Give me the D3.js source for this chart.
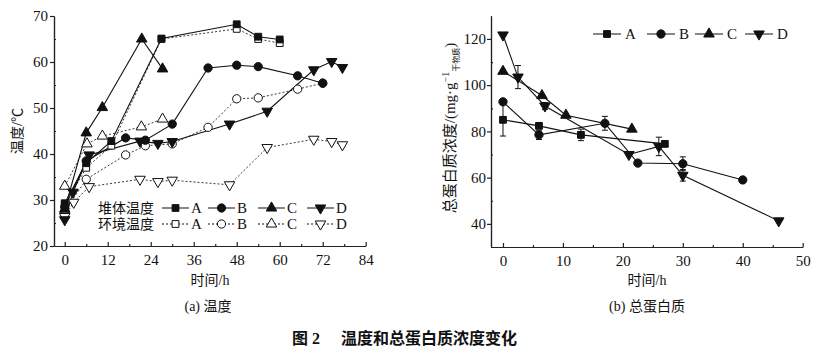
<!DOCTYPE html>
<html>
<head>
<meta charset="utf-8">
<script src="https://cdn.jsdelivr.net/npm/d3@7"></script>
<style>
body { margin: 0; background: #fff; }
text { font-family: "Liberation Serif", "Noto Sans CJK SC", serif; fill: #111; }
</style>
</head>
<body>
<div id="chart"></div>
<script>
'use strict';

// (a) temperature, [time h, temperature C]
var heapA = [[0,29.3],[6,38],[13,42.8],[27,65.1],[48,68.2],[54,65.5],[60,64.9]];
var envA  = [[0,29],[6,37],[13,41.8],[27,65],[48,67.2],[54,65],[60,64.1]];
var heapB = [[0,28.5],[6,38.5],[17,43.5],[22.5,43],[30,46.5],[40,58.7],[48,59.3],[54,59],[65,57],[72,55.4]];
var envB  = [[0,27.5],[6,34.5],[17,39.8],[22.5,41.8],[30,42.2],[40,45.8],[48,52],[54,52.2],[65,54.1],[72,55.4]];
var heapC = [[0,28],[6,44.6],[10.5,50.1],[21.5,65],[27.3,58.5]];
var envC  = [[0,33],[6.2,42.2],[10.5,43.9],[21.4,45.9],[27.3,47.6]];
var heapD = [[0,25.7],[2.3,31.7],[6.8,39.8],[21,42.8],[26,42.3],[30,42.7],[46,46.5],[56.5,49.3],[69.5,58.3],[74.5,60.1],[77.5,58.8]];
var envD  = [[0,26.4],[2.5,29.5],[6.8,32.9],[21,34.5],[26,34],[30,34.3],[46,33.3],[56.5,41.4],[69.5,43.2],[74.5,42.7],[77.5,42]];

// (b) total protein, [time h, mg/g, error]
var protA = [[0,85,7],[6,82.4,1],[13,78.5,2.5],[27,74.6,0]];
var protB = [[0,92.8,0],[6,78.5,2],[17,83.5,3],[22.5,66.3,0],[30,66,3],[40,59,0]];
var protC = [[0,106,0],[6.5,95.5,0],[10.5,87,0],[21.5,81,0]];
var protD = [[0,121.7,0],[2.5,103.5,5],[7,91,1.5],[21,70,0],[26,73.5,4],[30,61,2.5],[46,41.3,0]];

var seriesNames = ['A','B','C','D'];
var legendRows = ['堆体温度', '环境温度'];
var tempTicksX = [0,12,24,36,48,60,72,84];
var tempTicksY = [20,30,40,50,60,70];
var protTicksX = [0,10,20,30,40,50];
var protTicksY = [40,60,80,100,120];

var svg = d3.select('#chart').append('svg')
    .attr('width', 821)
    .attr('height', 353);

var shapes = {
    A: {type: d3.symbolSquare, size: 46, rot: 0},
    B: {type: d3.symbolCircle, size: 54, rot: 0},
    C: {type: d3.symbolTriangle, size: 48, rot: 0},
    D: {type: d3.symbolTriangle, size: 48, rot: 180}
};

function marker(g, name, x, y, open) {
    var s = shapes[name];
    g.append('path')
        .attr('d', d3.symbol().type(s.type).size(s.size)())
        .attr('transform', 'translate(' + x + ',' + y + ') rotate(' + s.rot + ')')
        .attr('fill', open ? '#fff' : '#111')
        .attr('stroke', '#111')
        .attr('stroke-width', 1);
}

function drawAxes(g, x, y, xt, yt, xMinor, yMinor, yPad) {
    var h = y.range()[0];
    g.append('g').attr('transform', 'translate(0,' + h + ')')
        .call(d3.axisBottom(x).tickValues(xMinor).tickSize(-2).tickFormat('').tickSizeOuter(0));
    g.append('g').attr('transform', 'translate(0,' + h + ')')
        .call(d3.axisBottom(x).tickValues(xt).tickSize(-4).tickPadding(8).tickSizeOuter(0));
    var x0 = x.range()[0];
    g.append('g').attr('transform', 'translate(' + x0 + ',0)')
        .call(d3.axisLeft(y).tickValues(yMinor).tickSize(-2).tickFormat('').tickSizeOuter(0));
    g.append('g').attr('transform', 'translate(' + x0 + ',0)')
        .call(d3.axisLeft(y).tickValues(yt).tickSize(4).tickPadding(yPad).tickSizeOuter(0));
    g.selectAll('.domain, .tick line').attr('stroke', '#222').attr('stroke-width', 1.2);
    g.selectAll('.tick text').style('font-size', '15px')
        .style('font-family', '"Liberation Serif", serif').attr('fill', '#111');
}

// ---- (a) temperature
var xT = d3.scaleLinear().domain([-3, 84]).range([54, 365.7]);
var yT = d3.scaleLinear().domain([20, 70]).range([246, 16]);
var gT = svg.append('g');
drawAxes(gT, xT, yT, tempTicksX, tempTicksY,
    d3.range(6, 84, 12), d3.range(25, 70, 10), 2);

var lineT = d3.line().x(function(d){ return xT(d[0]); }).y(function(d){ return yT(d[1]); });
var heaps = {A: heapA, B: heapB, C: heapC, D: heapD};
var envs = {A: envA, B: envB, C: envC, D: envD};

seriesNames.forEach(function(n){
    gT.append('path').datum(envs[n]).attr('d', lineT)
        .attr('fill', 'none').attr('stroke', '#222').attr('stroke-width', 0.9)
        .attr('stroke-dasharray', '2,2');
});
seriesNames.forEach(function(n){
    gT.append('path').datum(heaps[n]).attr('d', lineT)
        .attr('fill', 'none').attr('stroke', '#111').attr('stroke-width', 1.1);
});
seriesNames.forEach(function(n){
    envs[n].forEach(function(d){ marker(gT, n, xT(d[0]), yT(d[1]), true); });
});
seriesNames.forEach(function(n){
    heaps[n].forEach(function(d){ marker(gT, n, xT(d[0]), yT(d[1]), false); });
});

// legend (a): the two row titles share one text element
var legT = gT.append('g');
var legTX = [162, 208, 258, 307];
var rowY = [208, 224];
var rowTitles = legT.append('text')
    .style('font-size', '14px').style('font-family', '"Noto Sans CJK SC", sans-serif');
legendRows.forEach(function(t, r){
    rowTitles.append('tspan').attr('x', 98).attr('y', rowY[r] + 5).text(t);
});
rowY.forEach(function(ry, r){
    var open = r === 1;
    seriesNames.forEach(function(n, i){
        var x0 = legTX[i];
        legT.append('line').attr('x1', x0).attr('x2', x0 + 27)
            .attr('y1', ry).attr('y2', ry)
            .attr('stroke', '#111').attr('stroke-width', 1)
            .attr('stroke-dasharray', open ? '2,2' : null);
        marker(legT, n, x0 + 13.5, ry, open);
        legT.append('text').attr('x', x0 + 29).attr('y', ry + 5)
            .style('font-size', '15px').text(n);
    });
});

gT.append('text').attr('transform', 'translate(22,131) rotate(-90)')
    .attr('text-anchor', 'middle').style('font-size', '14px').text('温度/℃');
gT.append('text').attr('x', 210).attr('y', 285).attr('text-anchor', 'middle')
    .style('font-size', '14px').text('时间/h');
gT.append('text').attr('x', 208).attr('y', 311).attr('text-anchor', 'middle')
    .style('font-size', '14px').text('(a) 温度');

// ---- (b) protein
var xP = d3.scaleLinear().domain([-2, 50]).range([491, 802.7]);
var yP = d3.scaleLinear().domain([30, 130]).range([247, 15.8]);
var gP = svg.append('g');
drawAxes(gP, xP, yP, protTicksX, protTicksY,
    d3.range(5, 50, 10), d3.range(50, 130, 20), 1);

var lineP = d3.line().x(function(d){ return xP(d[0]); }).y(function(d){ return yP(d[1]); });
var prots = {A: protA, B: protB, C: protC, D: protD};

seriesNames.forEach(function(n){
    gP.append('path').datum(prots[n]).attr('d', lineP)
        .attr('fill', 'none').attr('stroke', '#111').attr('stroke-width', 1.1);
});
seriesNames.forEach(function(n){
    prots[n].filter(function(d){ return d[2] > 0; }).forEach(function(d){
        var cx = xP(d[0]), y1 = yP(d[1] - d[2]), y2 = yP(d[1] + d[2]);
        gP.append('line').attr('x1', cx).attr('x2', cx).attr('y1', y1).attr('y2', y2)
            .attr('stroke', '#111').attr('stroke-width', 1);
        [y1, y2].forEach(function(yy){
            gP.append('line').attr('x1', cx - 3).attr('x2', cx + 3).attr('y1', yy).attr('y2', yy)
                .attr('stroke', '#111').attr('stroke-width', 1);
        });
    });
});
seriesNames.forEach(function(n){
    prots[n].forEach(function(d){ marker(gP, n, xP(d[0]), yP(d[1]), false); });
});

var legPX = [593, 647, 695, 745];
seriesNames.forEach(function(n, i){
    var x0 = legPX[i];
    gP.append('line').attr('x1', x0).attr('x2', x0 + 28).attr('y1', 34).attr('y2', 34)
        .attr('stroke', '#111').attr('stroke-width', 1);
    marker(gP, n, x0 + 14, 34, false);
    gP.append('text').attr('x', x0 + 32).attr('y', 39).style('font-size', '15px').text(n);
});

var yl = gP.append('text').attr('transform', 'translate(455,128) rotate(-90)')
    .attr('text-anchor', 'middle').style('font-size', '15px');
yl.append('tspan').text('总蛋白质浓度/(mg·g');
yl.append('tspan').attr('dy', -6).style('font-size', '10px').text('−1');
yl.append('tspan').attr('dy', 10).style('font-size', '8px').text('干物质');
yl.append('tspan').attr('dy', -4).text(')');

gP.append('text').attr('x', 647).attr('y', 285).attr('text-anchor', 'middle')
    .style('font-size', '14px').text('时间/h');
gP.append('text').attr('x', 647).attr('y', 311).attr('text-anchor', 'middle')
    .style('font-size', '14px').text('(b) 总蛋白质');

// figure title
var title = svg.append('text').attr('x', 292).attr('y', 344)
    .style('font-size', '16px').style('font-weight', 'bold');
title.append('tspan').text('图 2');
title.append('tspan').attr('x', 341).text('温度和总蛋白质浓度变化');
</script>
</body>
</html>
